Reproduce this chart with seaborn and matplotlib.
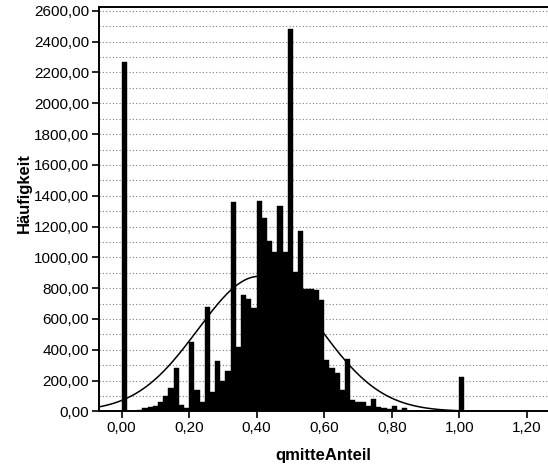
import numpy as np
import pandas as pd
import matplotlib
matplotlib.use('Agg')
import matplotlib.pyplot as plt
from matplotlib.ticker import FuncFormatter, MultipleLocator
import seaborn as sns

# Histogram of qmitteAnteil: 66 bins of width 1/65, left edge = k/65
bin_width = 1 / 65
counts = [2265, 0, 0, 12, 20, 29, 35, 61, 98, 150,
          280, 42, 20, 452, 139, 60, 677, 128, 327, 199,
          263, 1358, 421, 754, 731, 669, 1368, 1255, 1103, 1036,
          1334, 1036, 2480, 903, 1173, 796, 796, 787, 722, 334,
          280, 251, 139, 341, 76, 60, 62, 38, 78, 31,
          22, 18, 36, 8, 22, 4, 3, 0, 0, 0,
          0, 0, 0, 0, 0, 223]
bin_left = [k * bin_width for k in range(len(counts))]

# normal curve parameters
curve_mean = 0.408
curve_sd = 0.182

x_ticks = [0.0, 0.2, 0.4, 0.6, 0.8, 1.0, 1.2]
y_ticks = list(range(0, 2601, 200))

df = pd.DataFrame({'qmitteAnteil': bin_left, 'count': counts})

sns.set_theme(style='white')
plt.rcParams['font.family'] = ['Liberation Sans', 'DejaVu Sans']
plt.rcParams['text.color'] = 'black'
plt.rcParams['axes.labelcolor'] = 'black'
plt.rcParams['xtick.color'] = 'black'
plt.rcParams['ytick.color'] = 'black'

fig = plt.figure(figsize=(5.48, 4.65), dpi=100)
ax = fig.add_axes([99 / 548, (465 - 411.4) / 465, (548 - 99) / 548, (411.4 - 6.7) / 465])

# dotted grid every 100
ax.yaxis.set_minor_locator(MultipleLocator(100))
ax.grid(True, which='both', axis='y', color='#808080', linestyle=(0, (1, 2)), linewidth=0.8)
ax.set_axisbelow(True)

edges = [k * bin_width for k in range(len(counts) + 1)]
sns.histplot(data=df, x='qmitteAnteil', weights='count', bins=edges,
             color='black', edgecolor='black', alpha=1, linewidth=0.3, ax=ax)

# normal curve scaled to counts
n_total = sum(counts)
xs = np.linspace(-0.07, 1.27, 400)
ys = n_total * bin_width / (curve_sd * np.sqrt(2 * np.pi)) * np.exp(-(xs - curve_mean) ** 2 / (2 * curve_sd ** 2))
sns.lineplot(x=xs, y=ys, color='black', linewidth=1.1, ax=ax)

ax.set_xlim(-0.067, 1.263)
ax.set_ylim(0, 2627)
ax.set_xticks(x_ticks)
ax.set_yticks(y_ticks)
fmt = FuncFormatter(lambda v, p: f'{v:.2f}'.replace('.', ','))
ax.xaxis.set_major_formatter(fmt)
ax.yaxis.set_major_formatter(fmt)
ax.tick_params(axis='both', which='major', direction='out', length=5, width=1.2,
               color='black', labelcolor='black', labelsize=11, pad=2, left=True, bottom=True)
ax.tick_params(axis='y', which='minor', length=0)

for side in ['left', 'bottom', 'top']:
    ax.spines[side].set_visible(True)
    ax.spines[side].set_color('black')
    ax.spines[side].set_linewidth(1.4)
ax.spines['right'].set_visible(False)

ax.set_xlabel('qmitteAnteil', fontsize=12, fontweight='bold', color='black')
ax.set_ylabel('Häufigkeit', fontsize=12, fontweight='bold', color='black')
ax.xaxis.set_label_coords(0.5, -0.09)
ax.yaxis.set_label_coords(-0.15, 0.54)

plt.savefig('out.png', dpi=100)
plt.close()
